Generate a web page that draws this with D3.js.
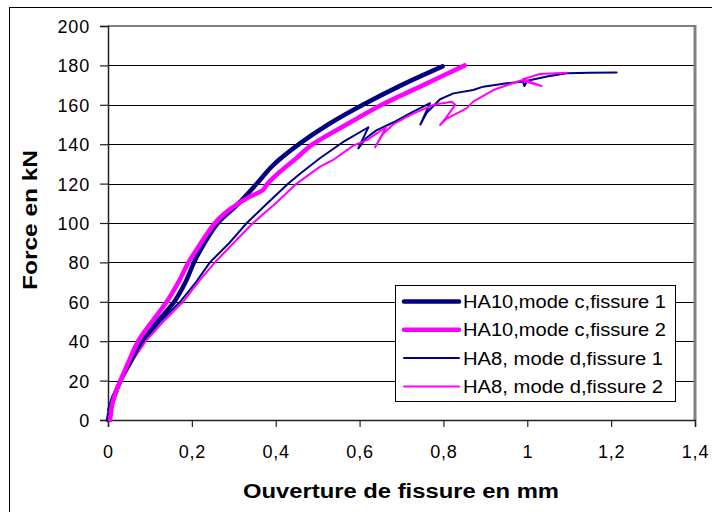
<!DOCTYPE html>
<html><head><meta charset="utf-8">
<script src="https://cdn.jsdelivr.net/npm/d3@7"></script>
<style>body{margin:0;background:#fff}svg{display:block}text{font-family:Arial,"Liberation Sans",sans-serif}</style>
</head><body>
<svg id="c" width="712" height="512"></svg>
<script>
const xTicks = [0,0.2,0.4,0.6,0.8,1,1.2,1.4];
const yTicks = [0,20,40,60,80,100,120,140,160,180,200];
const xTitle = "Ouverture de fissure en mm";
const yTitle = "Force en kN";
const seriesNames = ["HA10,mode c,fissure 1","HA10,mode c,fissure 2","HA8, mode d,fissure 1","HA8, mode d,fissure 2"];
const seriesColors = ["#000080","#ff00ff","#000080","#ff00ff"];
const seriesWidths = [4.5,4.5,2,2];
const ha10c1 = [[0,0],[0.005,5],[0.015,12],[0.03,20],[0.055,30],[0.08,40],[0.118,50],[0.158,60],[0.185,70],[0.205,80],[0.228,89],[0.262,100],[0.307,109],[0.355,120],[0.394,129.4],[0.458,140.4],[0.525,150],[0.608,160],[0.70,170],[0.798,179.5]];
const ha10c2 = [[0.005,0],[0.01,8],[0.02,15],[0.03,20],[0.05,30],[0.072,40],[0.105,50],[0.14,60],[0.168,70],[0.192,80],[0.222,90],[0.255,100],[0.283,105.7],[0.331,112.5],[0.37,116.8],[0.378,119.3],[0.41,126],[0.45,133],[0.485,139.5],[0.569,150],[0.653,160],[0.752,170],[0.851,180]];
const ha8d1 = [[0,5],[0.01,12],[0.03,20],[0.055,30],[0.085,40],[0.125,50],[0.172,60],[0.21,70],[0.243,80],[0.29,90],[0.331,100],[0.38,110],[0.43,120],[0.458,125],[0.506,133],[0.56,141],[0.621,148.6],[0.597,137.9],[0.615,143],[0.64,147],[0.68,151],[0.72,155.7],[0.768,160.8],[0.745,150],[0.76,156],[0.792,162.8],[0.824,165.8],[0.871,167.5],[0.895,169.2],[0.951,170.9],[0.99,171.8],[0.993,169.5],[1.0,172.2],[1.05,174.5],[1.094,176],[1.15,176.3],[1.213,176.4]];
const ha8d2 = [[0.002,0],[0.01,8],[0.03,20],[0.058,30],[0.09,40],[0.132,50],[0.179,60],[0.215,70],[0.255,80],[0.3,90],[0.346,100],[0.4,110],[0.45,120],[0.506,128.6],[0.537,132],[0.585,139.3],[0.617,142.1],[0.663,148.6],[0.637,138.4],[0.655,145],[0.68,150],[0.72,154.8],[0.776,160],[0.82,161.6],[0.828,160],[0.808,154],[0.792,149.7],[0.808,153],[0.855,158.2],[0.871,161.6],[0.919,167.5],[0.975,171.7],[0.985,172.4],[1.034,169.5],[0.99,173],[1.03,175.6],[1.094,176.3]];
const seriesData = [ha10c1, ha10c2, ha8d1, ha8d2];

const svg = d3.select("#c");
const L=108, R=695, T=26, B=420;
const x = d3.scaleLinear().domain([0,1.4]).range([L,R]);
const y = d3.scaleLinear().domain([0,200]).range([B,T]);

svg.append("rect").attr("x",9.5).attr("y",7.5).attr("width",720).attr("height",520).attr("fill","#fff").attr("stroke","#000").attr("stroke-width",1);
svg.append("rect").attr("x",L).attr("y",T).attr("width",R-L).attr("height",B-T).attr("fill","#fff");

svg.append("g").selectAll("line").data(yTicks.filter(d=>d>0&&d<200)).join("line")
  .attr("x1",L).attr("x2",R).attr("y1",d=>Math.round(y(d))+0.5).attr("y2",d=>Math.round(y(d))+0.5)
  .attr("stroke","#000").attr("stroke-width",1);
svg.append("line").attr("x1",L).attr("x2",R).attr("y1",T).attr("y2",T).attr("stroke","#808080").attr("stroke-width",2);
svg.append("line").attr("x1",R).attr("x2",R).attr("y1",T-1).attr("y2",B).attr("stroke","#808080").attr("stroke-width",3);

const fmt = d => String(d).replace(".",",");
const xAxis = d3.axisBottom(x).tickValues(xTicks).tickFormat(fmt).tickSize(7).tickPadding(18);
const yAxis = d3.axisLeft(y).tickValues(yTicks).tickFormat(d=>d).tickSize(8).tickPadding(10);
const gx = svg.append("g").attr("transform",`translate(0,${B})`).call(xAxis);
const gy = svg.append("g").attr("transform",`translate(${L},0)`).call(yAxis);
[gx,gy].forEach(g=>{
  g.select(".domain").attr("stroke","#222").attr("stroke-width",1.5);
  g.selectAll(".tick line").attr("stroke","#222").attr("stroke-width",1.2);
  g.selectAll(".tick text").attr("font-size","18px").attr("fill","#000")
    .attr("font-family","Arial, 'Liberation Sans', sans-serif").attr("letter-spacing","0.8px");
});
gy.selectAll(".tick text").attr("dy","0.36em");

const lineSmooth = d3.line().x(d=>x(d[0])).y(d=>y(d[1])).curve(d3.curveCatmullRom.alpha(0.5));
const lineRaw = d3.line().x(d=>x(d[0])).y(d=>y(d[1]));
const order = [2,3,0,1];
order.forEach(i=>{
  svg.append("path").datum(seriesData[i]).attr("d", i<2 ? lineSmooth : lineRaw).attr("fill","none")
    .attr("stroke",seriesColors[i]).attr("stroke-width",seriesWidths[i])
    .attr("stroke-linejoin","round").attr("stroke-linecap","round");
});

svg.append("text").attr("x",401).attr("y",498).attr("text-anchor","middle")
  .attr("font-size","20px").attr("font-weight","bold")
  .attr("textLength",316).attr("lengthAdjust","spacingAndGlyphs").text(xTitle);
svg.append("text").attr("transform","translate(37,220) rotate(-90)").attr("text-anchor","middle")
  .attr("font-size","20px").attr("font-weight","bold")
  .attr("textLength",140).attr("lengthAdjust","spacingAndGlyphs").text(yTitle);

const lg = svg.append("g");
lg.append("rect").attr("x",395.5).attr("y",285.5).attr("width",280).attr("height",116).attr("fill","#fff").attr("stroke","#000").attr("stroke-width",1);
seriesNames.forEach((n,i)=>{
  const cy = 301.5 + i*28.3;
  lg.append("line").attr("x1",404).attr("x2",459).attr("y1",cy).attr("y2",cy)
    .attr("stroke",seriesColors[i]).attr("stroke-width",seriesWidths[i]).attr("stroke-linecap","round");
  lg.append("text").attr("x",463).attr("y",cy).attr("dy","0.36em").attr("font-size","18px")
    .attr("textLength", i<2 ? 203 : 200).attr("lengthAdjust","spacingAndGlyphs").text(n);
});
</script>
</body></html>
